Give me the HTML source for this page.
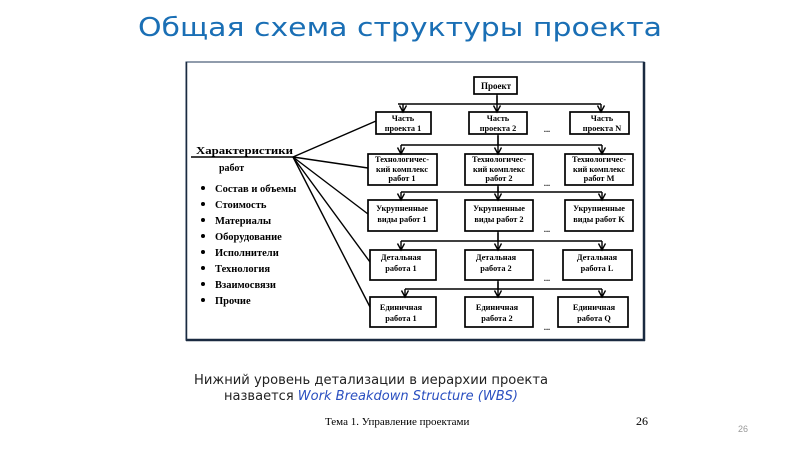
<!DOCTYPE html>
<html><head><meta charset="utf-8"><style>
html,body{margin:0;padding:0;background:#fff;width:800px;height:449px;overflow:hidden}
</style></head><body>
<svg width="800" height="449" viewBox="0 0 800 449" xmlns="http://www.w3.org/2000/svg">
<defs><marker id="a" markerWidth="10" markerHeight="10" refX="7" refY="4" orient="auto" markerUnits="userSpaceOnUse"><path d="M0.5,0.5 L7,4 L0.5,7.5" fill="none" stroke="#000" stroke-width="1.4"/></marker></defs>
<text x="400" y="36" text-anchor="middle" font-family="DejaVu Sans, sans-serif" font-size="26" fill="#1a6fb5" textLength="524" lengthAdjust="spacingAndGlyphs">Общая схема структуры проекта</text>
<rect x="186" y="62" width="458" height="278" fill="#fff" stroke="#203a5a" stroke-width="1"/>
<line x1="644" y1="62" x2="644" y2="341" stroke="#1a2a40" stroke-width="2.5"/>
<line x1="186" y1="340" x2="645" y2="340" stroke="#1a2a40" stroke-width="2.5"/>
<line x1="186.5" y1="62" x2="186.5" y2="341" stroke="#1a2a40" stroke-width="1.5"/>
<g fill="none" stroke="#000" stroke-width="1.7">
<rect x="474" y="77" width="43" height="17"/>
<rect x="376" y="112" width="55" height="22"/><rect x="469" y="112" width="58" height="22"/><rect x="570" y="112" width="59" height="22"/>
<rect x="368" y="154" width="69" height="31"/><rect x="465" y="154" width="68" height="31"/><rect x="565" y="154" width="68" height="31"/>
<rect x="368" y="200" width="69" height="31"/><rect x="465" y="200" width="68" height="31"/><rect x="565" y="200" width="68" height="31"/>
<rect x="370" y="250" width="66" height="30"/><rect x="465" y="250" width="68" height="30"/><rect x="563" y="250" width="69" height="30"/>
<rect x="370" y="297" width="66" height="30"/><rect x="465" y="297" width="68" height="30"/><rect x="558" y="297" width="70" height="30"/>
</g>
<g fill="none" stroke="#000" stroke-width="1.4">
<path d="M497,94 V104 M398,104 H601"/>
<path d="M498,134 V145 M401,145 H602"/>
<path d="M498,185 V192 M401,192 H602"/>
<path d="M498,231 V241 M401,241 H602"/>
<path d="M498,280 V289 M405,289 H602"/>
</g>
<g stroke="#000" stroke-width="1.4" marker-end="url(#a)">
<line x1="403" y1="104" x2="403" y2="112"/><line x1="497" y1="96" x2="497" y2="112"/><line x1="601" y1="104" x2="601" y2="112"/>
<line x1="401" y1="145" x2="401" y2="154"/><line x1="498" y1="136" x2="498" y2="154"/><line x1="602" y1="145" x2="602" y2="154"/>
<line x1="401" y1="192" x2="401" y2="200"/><line x1="498" y1="187" x2="498" y2="200"/><line x1="602" y1="192" x2="602" y2="200"/>
<line x1="401" y1="241" x2="401" y2="250"/><line x1="498" y1="233" x2="498" y2="250"/><line x1="602" y1="241" x2="602" y2="250"/>
<line x1="405" y1="289" x2="405" y2="297"/><line x1="498" y1="282" x2="498" y2="297"/><line x1="602" y1="289" x2="602" y2="297"/>
</g>
<g stroke="#000" stroke-width="1.4">
<line x1="191" y1="157" x2="293" y2="157"/>
<line x1="293" y1="157" x2="376" y2="121"/>
<line x1="293" y1="157" x2="368" y2="168"/>
<line x1="293" y1="157" x2="368" y2="214"/>
<line x1="293" y1="157" x2="370" y2="262"/>
<line x1="293" y1="157" x2="370" y2="307"/>
</g>
<g font-family="Liberation Serif, serif" font-weight="bold" font-size="8.3" fill="#000" text-anchor="middle">
<text x="496" y="89" font-size="9">Проект</text>
<text x="403" y="121">Часть</text><text x="403" y="131">проекта 1</text>
<text x="498" y="121">Часть</text><text x="498" y="131">проекта 2</text>
<text x="602" y="121">Часть</text><text x="602" y="131">проекта N</text>
<text x="402" y="162">Технологичес-</text><text x="402" y="172">кий  комплекс</text><text x="402" y="181">работ 1</text>
<text x="499" y="162">Технологичес-</text><text x="499" y="172">кий  комплекс</text><text x="499" y="181">работ 2</text>
<text x="599" y="162">Технологичес-</text><text x="599" y="172">кий  комплекс</text><text x="599" y="181">работ M</text>
<text x="402" y="211">Укрупненные</text><text x="402" y="222">виды работ 1</text>
<text x="499" y="211">Укрупненные</text><text x="499" y="222">виды работ 2</text>
<text x="599" y="211">Укрупненные</text><text x="599" y="222">виды работ K</text>
<text x="401" y="260">Детальная</text><text x="401" y="271">работа  1</text>
<text x="496" y="260">Детальная</text><text x="496" y="271">работа  2</text>
<text x="597" y="260">Детальная</text><text x="597" y="271">работа  L</text>
<text x="401" y="310">Единичная</text><text x="401" y="321">работа  1</text>
<text x="497" y="310">Единичная</text><text x="497" y="321">работа  2</text>
<text x="594" y="310">Единичная</text><text x="594" y="321">работа  Q</text>
<text x="547" y="132">...</text><text x="547" y="186">...</text><text x="547" y="232">...</text><text x="547" y="281">...</text><text x="547" y="330">...</text>
</g>
<g font-family="Liberation Serif, serif" font-weight="bold" font-size="10.5" fill="#000">
<text x="196" y="154" textLength="97" lengthAdjust="spacingAndGlyphs">Характеристики</text>
<text x="219" y="171" font-size="10">работ</text>
<text x="215" y="192">Состав и объемы</text>
<text x="215" y="208">Стоимость</text>
<text x="215" y="224">Материалы</text>
<text x="215" y="240">Оборудование</text>
<text x="215" y="256">Исполнители</text>
<text x="215" y="272">Технология</text>
<text x="215" y="288">Взаимосвязи</text>
<text x="215" y="304">Прочие</text>
</g>
<g fill="#000">
<circle cx="203" cy="188" r="2"/><circle cx="203" cy="204" r="2"/><circle cx="203" cy="220" r="2"/><circle cx="203" cy="236" r="2"/><circle cx="203" cy="252" r="2"/><circle cx="203" cy="268" r="2"/><circle cx="203" cy="284" r="2"/><circle cx="203" cy="300" r="2"/>
</g>
<text x="194" y="384" font-family="DejaVu Sans, sans-serif" font-size="13" fill="#222" textLength="354" lengthAdjust="spacingAndGlyphs">Нижний уровень детализации в иерархии проекта</text>
<text x="224" y="400" font-family="DejaVu Sans, sans-serif" font-size="13" fill="#222" textLength="294" lengthAdjust="spacingAndGlyphs">назвается <tspan fill="#2a4fc0" font-style="italic">Work Breakdown Structure (WBS)</tspan></text>
<text x="325" y="425" font-family="Liberation Serif, serif" font-size="11" fill="#000">Тема 1. Управление проектами</text>
<text x="636" y="425" font-family="Liberation Serif, serif" font-size="12" fill="#000">26</text>
<text x="738" y="432" font-family="Liberation Sans, sans-serif" font-size="9" fill="#999">26</text>
</svg>
</body></html>
